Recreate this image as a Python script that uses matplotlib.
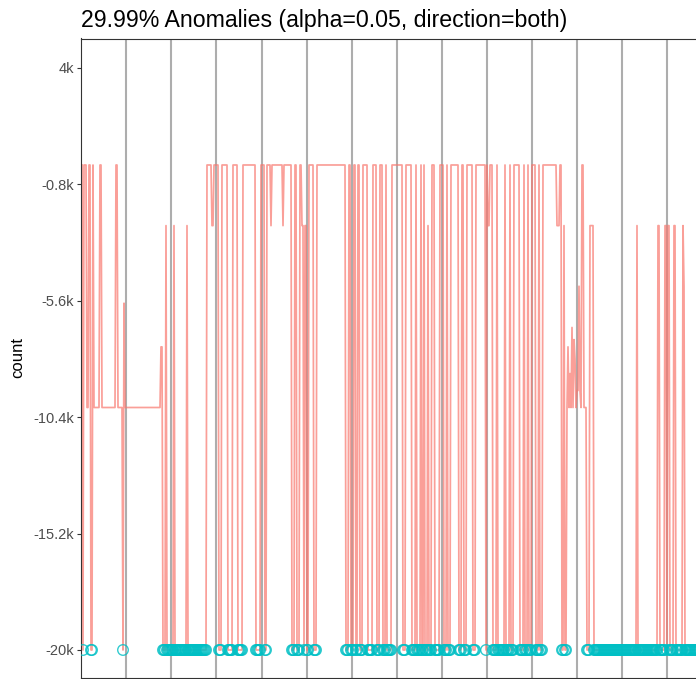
import matplotlib
matplotlib.use("Agg")
import matplotlib.pyplot as plt
import numpy as np

plt.rcParams['font.family'] = ['Liberation Sans', 'DejaVu Sans']

# series: each run starts at seg_start and holds seg_level
seg_start = [1, 2, 3, 6, 8, 10, 12, 13, 19, 21, 35, 37, 42, 43, 44, 80, 82, 85, 86, 93, 94, 106, 107, 126,
             131, 133, 138, 141, 147, 152, 157, 162, 175, 180, 184, 186, 190, 191, 202, 203,
             211, 214, 216, 219, 221, 223, 224, 226, 228, 233, 236,
             265, 268, 270, 273, 275, 277, 279, 282, 287, 292, 296, 299, 302, 305, 306, 311,
             322, 325, 331, 335, 336, 340, 341, 343, 344, 347, 348, 351, 354, 359,
             363, 366, 367, 370, 378, 381, 383, 386, 392, 395, 405, 406, 407, 409,
             412, 416, 417, 424, 425, 429, 430, 433, 439, 443, 444, 447, 448, 451,
             455, 458, 459, 462,
             476, 479, 481, 483, 484, 486, 487, 488, 489, 490, 491, 492, 493, 494, 495, 496,
             498, 499, 500, 501, 503, 506,
             509, 513, 556, 557, 577, 579, 584, 586, 587, 589, 593, 595, 602, 603, 604]
seg_level = [0, -20000, 0, -10000, 0, -20000, 0, -10000, 0, -10000, 0, -10000, -20000, -5700, -10000,
             -7500, -20000, -2500, -20000, -2500, -20000, -2500, -20000, 0,
             -2500, 0, -20000, 0, -20000, 0, -20000, 0, -20000, 0, -20000, 0, -2500, 0, -2500, 0,
             -20000, 0, -20000, 0, -2500, -20000, -2500, -20000, 0, -20000, 0,
             -20000, 0, -20000, 0, -20000, 0, -20000, 0, -20000, 0, -20000, 0, -20000, 0, -20000, 0,
             -20000, 0, -20000, 0, -20000, 0, -20000, 0, -20000, -2500, -20000, 0, -20000, 0,
             -20000, 0, -20000, 0, -20000, 0, -20000, 0, -20000, 0, -20000, 0, -2500, 0,
             -20000, 0, -20000, 0, -20000, 0, -20000, 0, -20000, 0, -20000, 0, -20000, 0,
             -20000, 0, -20000, 0,
             -2500, 0, -20000, -2500, -20000, -10000, -7500, -10000, -8600, -10000, -6700, -10000,
             -7200, -8000, -10000, -9300,
             -5000, -9300, -10000, 0, -10000, -20000,
             -2500, -20000, -2500, -20000, -2500, -20000, -2500, -20000, -2500, -20000,
             -2500, -20000, -2500, -5000, -20000]
seg_end = 620

grid_x = [45.3, 90.3, 135.3, 180.7, 225.7, 270.7, 315.7, 360.7, 405.7, 451, 496.3, 541, 586.3]
y_ticks = [4000, -800, -5600, -10400, -15200, -20000]
y_labels = ['4k', '-0.8k', '-5.6k', '-10.4k', '-15.2k', '-20k']
title = '29.99% Anomalies (alpha=0.05, direction=both)'

runs = np.diff(seg_start + [seg_end])
count = np.repeat(seg_level, runs).astype(float)
t = np.arange(seg_start[0], seg_end)
anomaly = count == -20000

W, H = 696, 679
fig = plt.figure(figsize=(W / 100, H / 100), dpi=100)
ax = fig.add_axes([81 / W, 1.5 / H, 619 / W, 639 / H])

ax.plot(t, count, color='#F8766D', lw=1.25, alpha=0.7, zorder=2)
ax.scatter(t[anomaly], count[anomaly], s=58, facecolors='none', edgecolors='#00BFC4',
           linewidths=1.0, alpha=0.8, zorder=3)

ax.set_xlim(0, 619)
ax.set_ylim(-21134, 5216)
ax.set_xticks(grid_x)
ax.set_xticklabels([])
ax.tick_params(axis='x', length=0)
ax.grid(axis='x', color='#ADADAD', lw=1.5, zorder=0)
ax.set_axisbelow(True)
ax.set_yticks(y_ticks)
ax.set_yticklabels(y_labels)
ax.tick_params(axis='y', length=3, width=0.8, color='#333333', labelcolor='#4D4D4D',
               labelsize=10.5, pad=2)
for side in ['left', 'top', 'bottom']:
    ax.spines[side].set_color('#333333')
    ax.spines[side].set_linewidth(0.8)
ax.spines['right'].set_visible(False)

fig.text(81 / W, 1 - 27 / H, title, fontsize=16.7, ha='left', va='baseline', color='black')
fig.text(18 / W, 1 - 358 / H, 'count', fontsize=12, rotation=90, ha='center', va='center')

fig.savefig('out.png', dpi=100)
